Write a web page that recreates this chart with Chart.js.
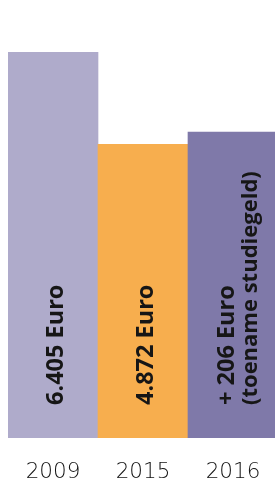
<!DOCTYPE html>
<html lang="nl">
<head>
    <meta charset="UTF-8">
    <title>Studiefinanciering</title>
    <script src="https://cdn.jsdelivr.net/npm/chart.js"></script>
    <style>
        html, body { margin: 0; padding: 0; background: #fff; overflow: hidden; }
        #wrap { position: relative; width: 278px; height: 481px; }
    </style>
</head>
<body>
<div id="wrap">
    <canvas id="barChart" aria-label="Bar chart" role="img"></canvas>
</div>

<script>
    // data
    const years = ['2009', '2015', '2016'];
    const amounts = [6405, 4872, 5078];
    const barTexts = [
        ['6.405 Euro'],
        ['4.872 Euro'],
        ['+ 206 Euro', '(toename studiegeld)']
    ];

    const barColors = ['#afabcb', '#f7ae4e', '#7f79a9'];

    // writes the rotated labels inside the bars
    const barTextPlugin = {
        id: 'barText',
        afterDatasetsDraw(chart) {
            const ctx = chart.ctx;
            const meta = chart.getDatasetMeta(0);
            const base = chart.scales.y.getPixelForValue(0);
            ctx.save();
            ctx.fillStyle = '#161616';
            ctx.textBaseline = 'alphabetic';
            ctx.textAlign = 'left';
            meta.data.forEach((bar, i) => {
                const lines = barTexts[i];
                lines.forEach((line, j) => {
                    let dx;
                    if (lines.length === 1) dx = 10;
                    else dx = j === 0 ? 1 : 24;
                    // the long second line is a bit tighter
                    ctx.font = (j === 1 ? 'bold 22px' : 'bold 23.5px') + ' "Open Sans", sans-serif';
                    ctx.save();
                    ctx.translate(bar.x + dx, base - 33);
                    ctx.rotate(-Math.PI / 2);
                    ctx.fillText(line, 0, 0);
                    ctx.restore();
                });
            });
            ctx.restore();
        }
    };

    const ctx = document.getElementById('barChart').getContext('2d');
    const chart = new Chart(ctx, {
        type: 'bar',
        data: {
            labels: years,
            datasets: [{
                data: amounts,
                backgroundColor: barColors,
                borderWidth: 0,
                barPercentage: 1,
                categoryPercentage: 1
            }]
        },
        options: {
            responsive: true,
            maintainAspectRatio: false,
            animation: false,
            layout: {
                padding: { top: 52, left: 8, right: 0, bottom: 0 }
            },
            plugins: {
                legend: { display: false },
                tooltip: { enabled: false }
            },
            scales: {
                x: {
                    grid: { display: false },
                    border: { display: false },
                    ticks: {
                        color: '#111',
                        padding: 14,
                        font: { family: '"DejaVu Sans", sans-serif', size: 21.5, weight: '200' }
                    },
                    afterFit(scale) {
                        scale.height = 43;
                    }
                },
                y: {
                    display: false,
                    min: 0,
                    max: 6405
                }
            }
        },
        plugins: [barTextPlugin]
    });
</script>
</body>
</html>
